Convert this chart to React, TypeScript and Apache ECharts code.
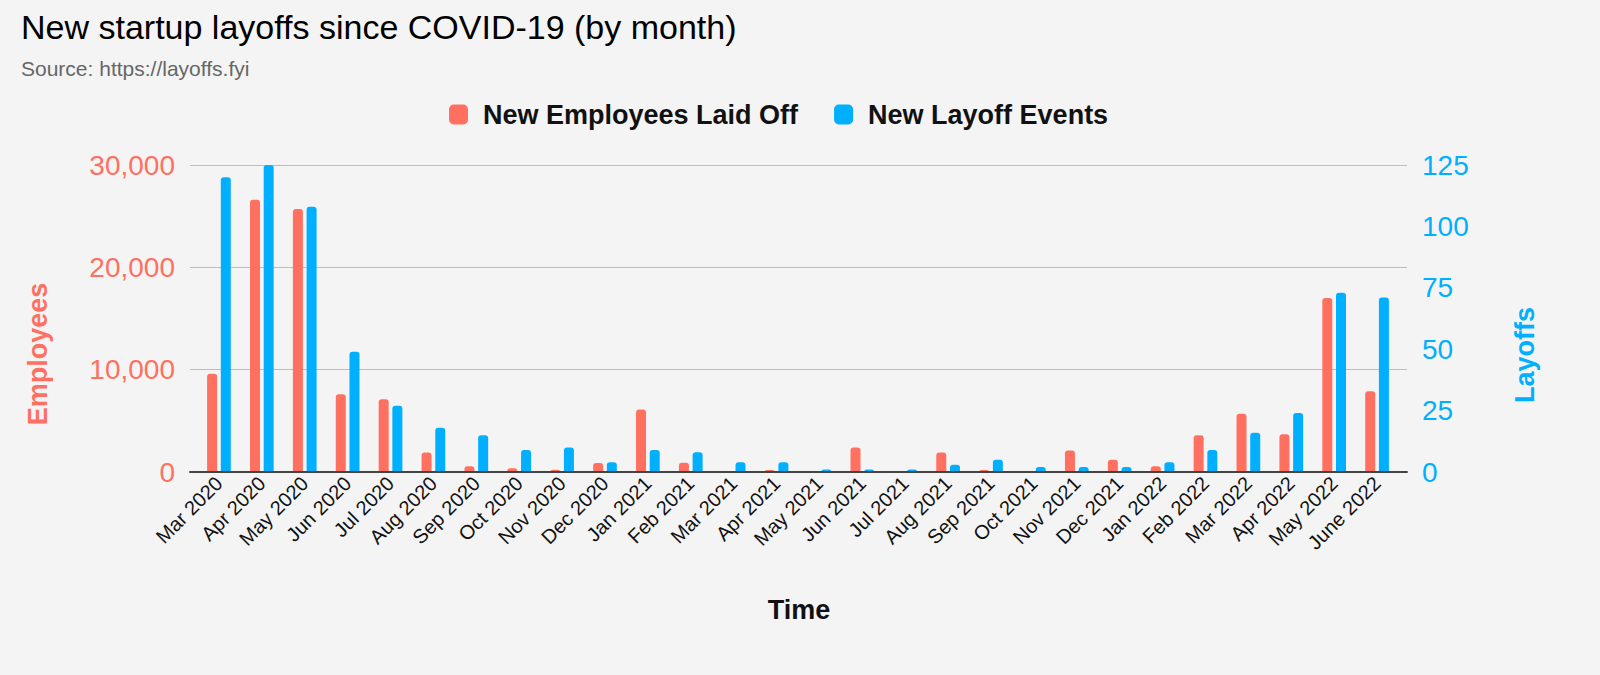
import React, { useEffect, useRef } from 'react';
import * as echarts from 'echarts';

const categories = [
  'Mar 2020', 'Apr 2020', 'May 2020', 'Jun 2020', 'Jul 2020', 'Aug 2020', 'Sep 2020',
  'Oct 2020', 'Nov 2020', 'Dec 2020', 'Jan 2021', 'Feb 2021', 'Mar 2021', 'Apr 2021',
  'May 2021', 'Jun 2021', 'Jul 2021', 'Aug 2021', 'Sep 2021', 'Oct 2021', 'Nov 2021',
  'Dec 2021', 'Jan 2022', 'Feb 2022', 'Mar 2022', 'Apr 2022', 'May 2022', 'June 2022',
];

const employeesLaidOff = [
  9600, 26600, 25700, 7600, 7100, 1900, 560,
  360, 230, 880, 6100, 900, 0, 200,
  0, 2400, 0, 1900, 200, 0, 2100,
  1200, 550, 3600, 5700, 3700, 17000, 7900,
];

const layoffEvents = [
  120, 125, 108, 49, 27, 18, 15,
  9, 10, 4, 9, 8, 4, 4,
  1, 1, 1, 3, 5, 2, 2,
  2, 4, 9, 16, 24, 73, 71,
];

const employeeTicks = { min: 0, max: 30000, interval: 10000 };
const layoffTicks = { min: 0, max: 125, interval: 25 };

const RED = '#ff7061';
const BLUE = '#00b0ff';
const FONT = 'Arial, "Liberation Sans", Helvetica, sans-serif';

const App = () => {
  const chartRef = useRef<HTMLDivElement>(null);

  useEffect(() => {
    document.body.style.margin = '0';
    if (!chartRef.current) return;
    const chart = echarts.init(chartRef.current, undefined, { renderer: 'svg' });

    const option = {
      animation: false,
      backgroundColor: '#f4f4f4',
      textStyle: { fontFamily: FONT },
      title: [
        {
          text: 'New startup layoffs since COVID-19 (by month)',
          left: 21,
          top: 10,
          padding: 0,
          textStyle: { fontSize: 34, fontWeight: 'normal', color: '#000', fontFamily: FONT },
        },
        {
          text: 'Source: https://layoffs.fyi',
          left: 21,
          top: 58,
          padding: 0,
          textStyle: { fontSize: 21, fontWeight: 'normal', color: '#666', fontFamily: FONT },
        },
      ],
      legend: {
        left: 449,
        top: 101,
        padding: 0,
        icon: 'roundRect',
        itemWidth: 19,
        itemHeight: 20,
        itemGap: 36,
        textStyle: {
          fontSize: 27,
          fontWeight: 'bold',
          color: '#111',
          fontFamily: FONT,
          padding: [0, 0, 0, 10],
        },
        data: ['New Employees Laid Off', 'New Layoff Events'],
      },
      grid: [
        // frame: gridlines, baseline and tick labels
        { left: 190, right: 193, top: 165, bottom: 203 },
        // bars sit a little inside the frame
        { left: 197.5, right: 201.5, top: 165, bottom: 203 },
      ],
      xAxis: [
        {
          gridIndex: 0,
          type: 'category',
          data: categories,
          axisLine: { lineStyle: { color: '#444', width: 2 } },
          axisTick: { show: false },
          axisLabel: { show: false },
          splitLine: { show: false },
          z: 5,
        },
        {
          gridIndex: 1,
          type: 'category',
          data: categories,
          axisLine: { show: false },
          axisTick: { show: false },
          axisLabel: { rotate: 45, interval: 0, fontSize: 20, color: '#111', margin: 8, fontFamily: FONT },
        },
      ],
      yAxis: [
        {
          gridIndex: 0,
          type: 'value',
          position: 'left',
          ...employeeTicks,
          axisLine: { show: false },
          axisTick: { show: false },
          axisLabel: {
            color: RED,
            fontSize: 28,
            margin: 15,
            fontFamily: FONT,
            formatter: (v: number) => v.toLocaleString('en-US'),
          },
          splitLine: { lineStyle: { color: '#bdbdbd', width: 1 } },
        },
        {
          gridIndex: 0,
          type: 'value',
          position: 'right',
          ...layoffTicks,
          axisLine: { show: false },
          axisTick: { show: false },
          axisLabel: { color: BLUE, fontSize: 28, margin: 15, fontFamily: FONT },
          splitLine: { show: false },
        },
        { gridIndex: 1, type: 'value', ...employeeTicks, show: false },
        { gridIndex: 1, type: 'value', ...layoffTicks, show: false },
      ],
      series: [
        {
          name: 'New Employees Laid Off',
          type: 'bar',
          xAxisIndex: 1,
          yAxisIndex: 2,
          barWidth: 10,
          barGap: '37%',
          itemStyle: { color: RED, borderRadius: [3, 3, 0, 0] },
          data: employeesLaidOff,
        },
        {
          name: 'New Layoff Events',
          type: 'bar',
          xAxisIndex: 1,
          yAxisIndex: 3,
          barWidth: 10,
          barGap: '37%',
          itemStyle: { color: BLUE, borderRadius: [3, 3, 0, 0] },
          data: layoffEvents,
        },
      ],
      graphic: [
        {
          type: 'text',
          x: 38,
          y: 354,
          rotation: Math.PI / 2,
          style: {
            text: 'Employees',
            fill: RED,
            font: `bold 27px ${FONT}`,
            align: 'center',
            verticalAlign: 'middle',
          },
        },
        {
          type: 'text',
          x: 1525,
          y: 355,
          rotation: Math.PI / 2,
          style: {
            text: 'Layoffs',
            fill: BLUE,
            font: `bold 27px ${FONT}`,
            align: 'center',
            verticalAlign: 'middle',
          },
        },
        {
          type: 'text',
          x: 799,
          y: 610,
          style: {
            text: 'Time',
            fill: '#111',
            font: `bold 27px ${FONT}`,
            align: 'center',
            verticalAlign: 'middle',
          },
        },
      ],
    };

    chart.setOption(option as any);

    const handleResize = () => chart.resize();
    window.addEventListener('resize', handleResize);

    return () => {
      window.removeEventListener('resize', handleResize);
      chart.dispose();
    };
  }, []);

  return <div ref={chartRef} style={{ width: '1600px', height: '675px' }} />;
};

export default App;
